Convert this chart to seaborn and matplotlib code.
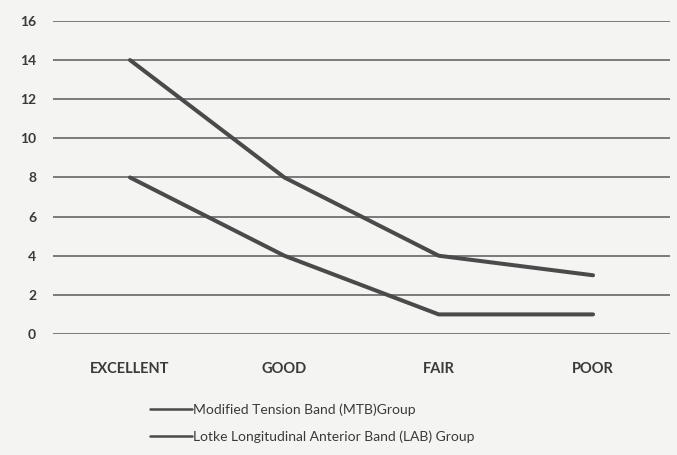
import matplotlib
matplotlib.use("Agg")
import matplotlib.pyplot as plt
import seaborn as sns
import pandas as pd

# Outcome grades and number of patients per group
categories = ["EXCELLENT", "GOOD", "FAIR", "POOR"]
mtb_values = [14, 8, 4, 3]
lab_values = [8, 4, 1, 1]
series_names = ["Modified Tension Band (MTB)Group",
                "Lotke Longitudinal Anterior Band (LAB) Group"]
y_ticks = [0, 2, 4, 6, 8, 10, 12, 14, 16]

sns.set_theme(style="white")
plt.rcParams["font.family"] = ["Lato", "DejaVu Sans"]

df = pd.DataFrame({
    "grade": categories * 2,
    "pos": list(range(len(categories))) * 2,
    "count": mtb_values + lab_values,
    "group": [series_names[0]] * 4 + [series_names[1]] * 4,
})

bg = "#f4f4f2"
ink = "#3a3a3a"
fig = plt.figure(figsize=(6.77, 4.55), dpi=100, facecolor=bg)
ax = fig.add_axes([0.078, 0.266, 0.912, 0.688])
ax.set_facecolor(bg)

sns.lineplot(data=df, x="pos", y="count", hue="group", hue_order=series_names,
             palette=["#4a4a4a", "#4a4a4a"], linewidth=2.9, ax=ax, legend=False)

ax.set_xlim(-0.5, len(categories) - 0.5)
ax.set_ylim(0, 16)
ax.set_yticks(y_ticks)
ax.set_yticklabels([str(v) for v in y_ticks], fontsize=10, color=ink,
                   fontweight="bold")
ax.set_xticks(range(len(categories)))
ax.set_xticklabels(categories, fontsize=10.5, color=ink, fontweight="bold")
ax.tick_params(axis="y", length=0, pad=12)
ax.tick_params(axis="x", length=0, pad=20)
ax.yaxis.grid(True, color="#7a7a7a", linewidth=1.4)
ax.set_axisbelow(True)
for s in ax.spines.values():
    s.set_visible(False)
ax.set_xlabel("")
ax.set_ylabel("")

handles = [plt.Line2D([], [], color="#4a4a4a", linewidth=1.8) for _ in series_names]
fig.legend(handles, series_names, loc="upper left", bbox_to_anchor=(0.222, 0.113),
           frameon=False, fontsize=10, handlelength=3.0, handletextpad=0.1,
           labelspacing=1.05, borderaxespad=0, borderpad=0,
           labelcolor=ink)

fig.savefig("out.png", dpi=100, facecolor=bg)
